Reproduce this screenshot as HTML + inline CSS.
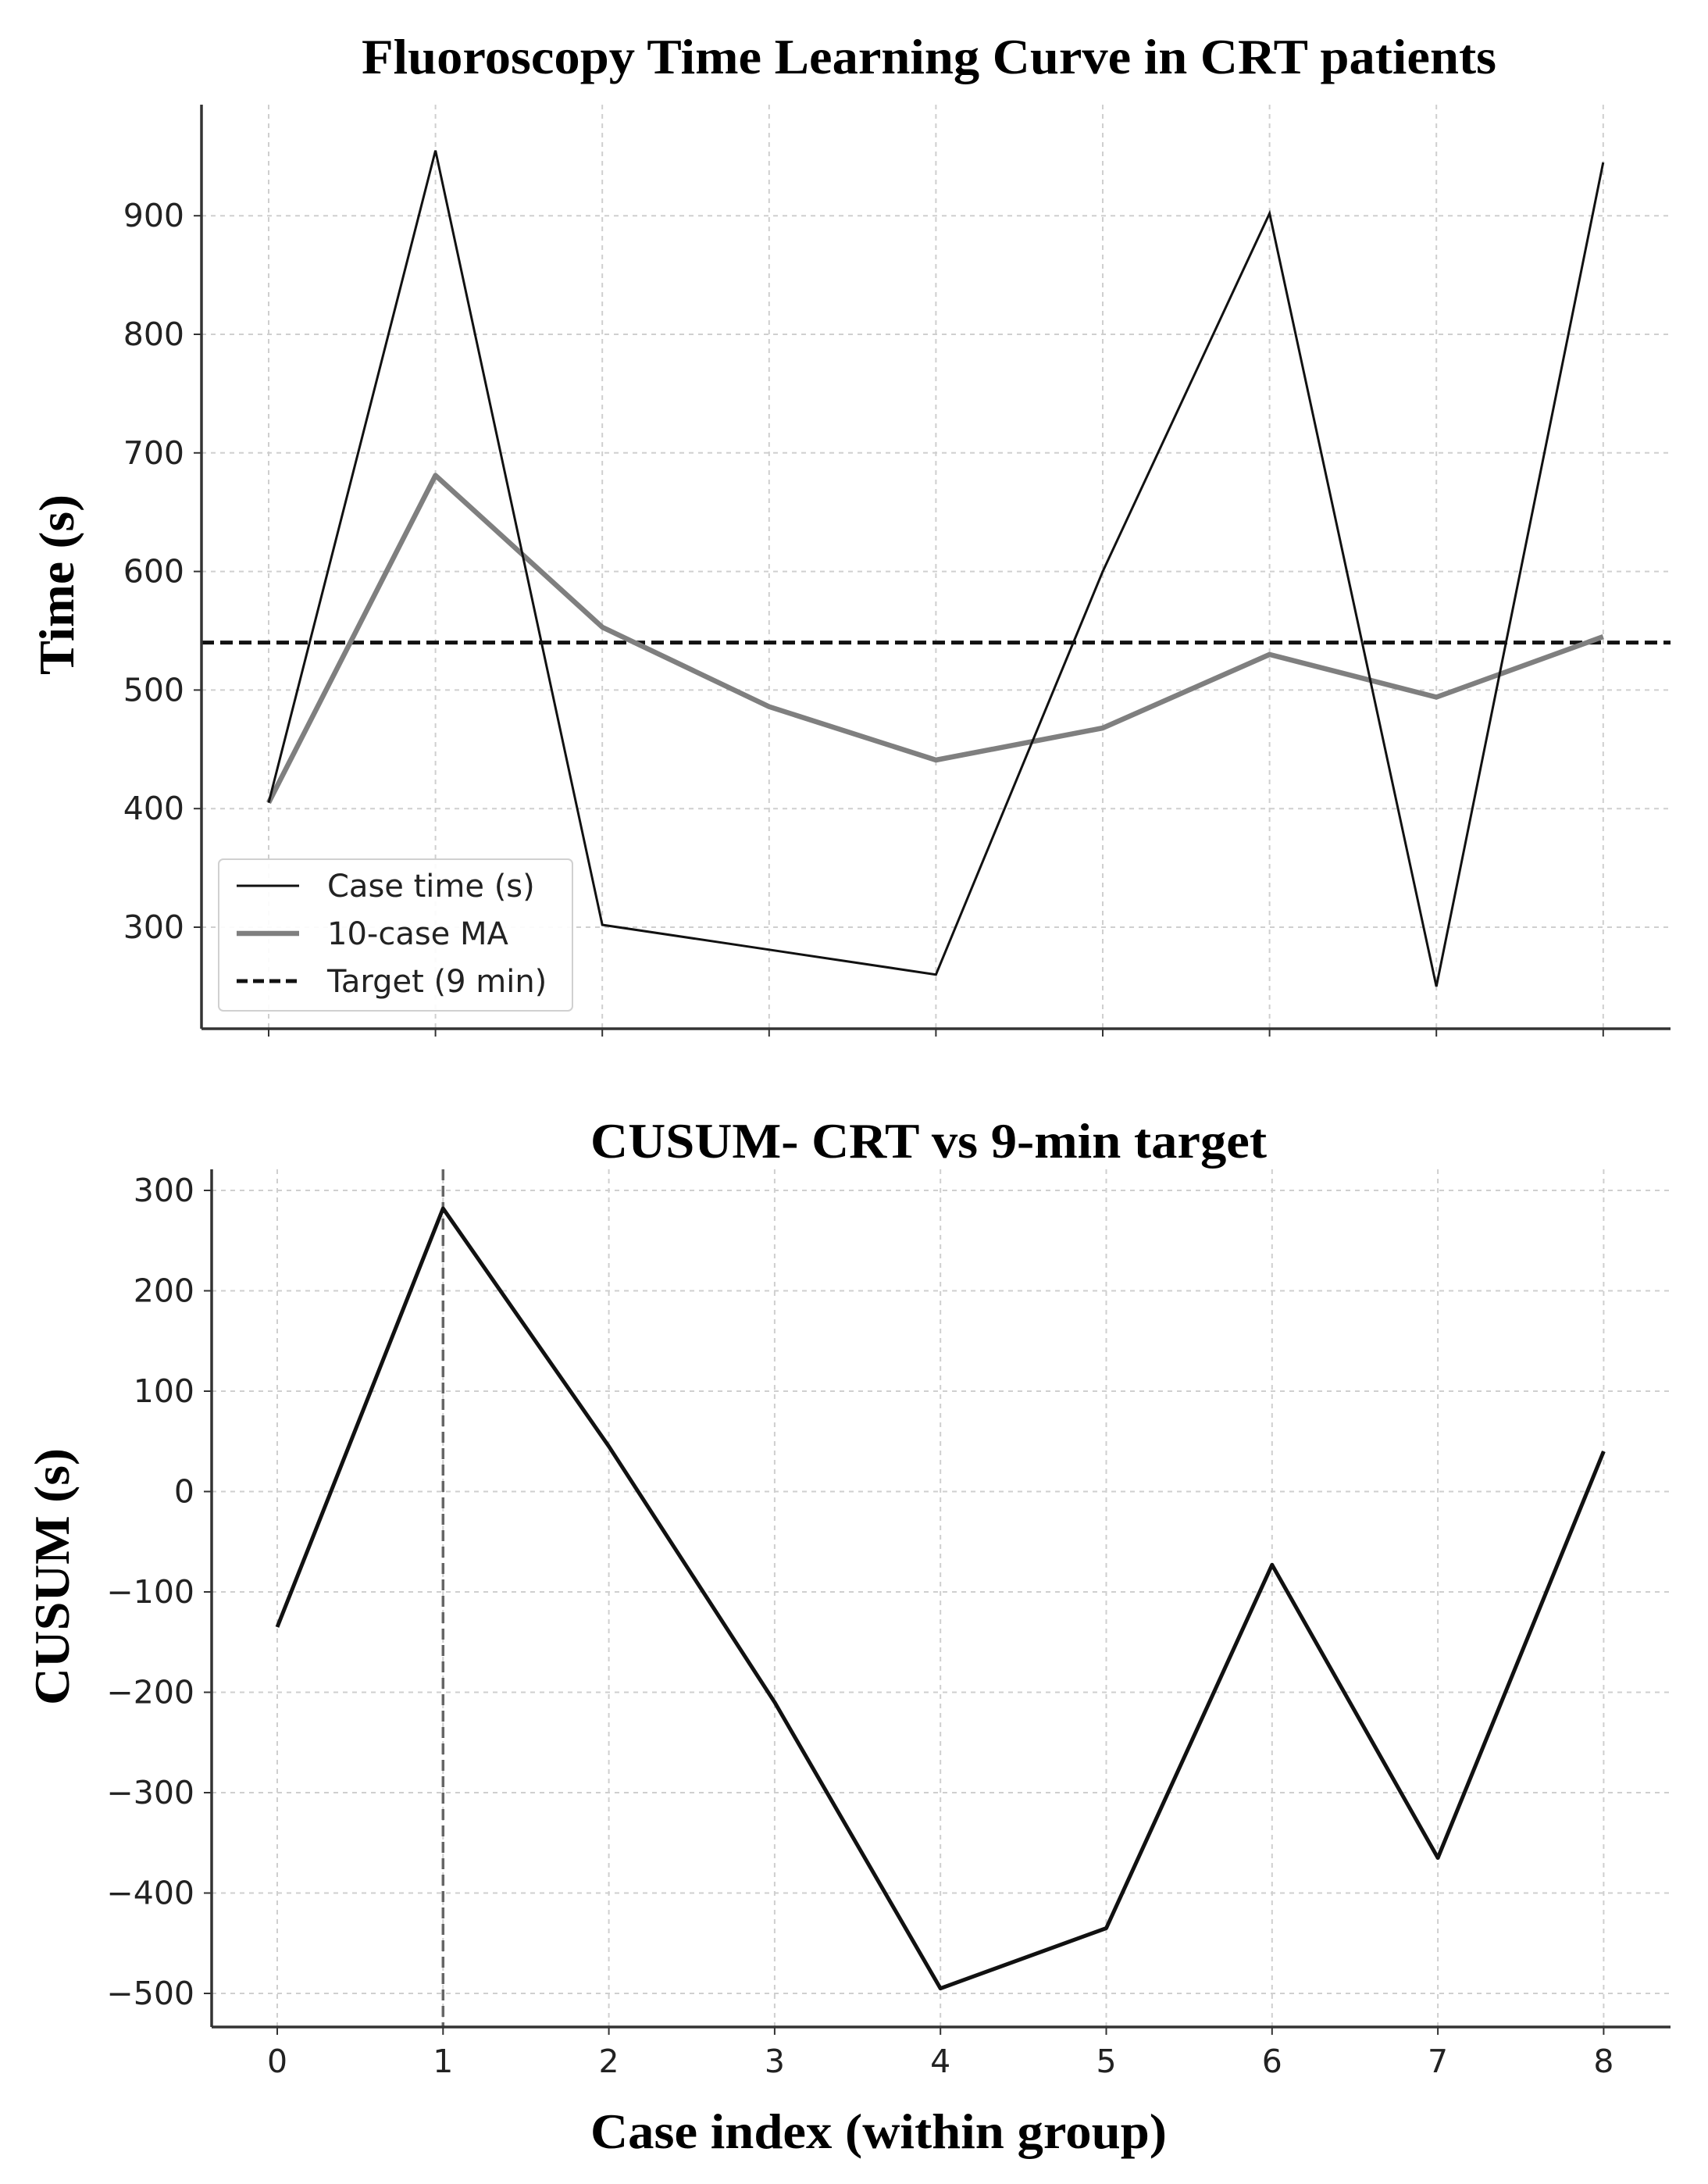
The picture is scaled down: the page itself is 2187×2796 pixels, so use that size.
<!DOCTYPE html>
<html><head><meta charset="utf-8"><style>
html,body{margin:0;padding:0;background:#fff;}
svg{display:block;}
text{font-family:"DejaVu Sans","Liberation Sans",sans-serif;}
.t{font-family:"Liberation Serif",serif;font-weight:bold;}
</style></head><body>
<svg id="c" width="2187" height="2796" viewBox="0 0 2187 2796"></svg>
<script>
const cases=[0,1,2,3,4,5,6,7,8];
const caseTime=[405,955,302,281,260,600,902,250,945];
const movingAvg=[405,681,553,486,441,468,530,494,545];
const targetVal=540;
const topTicks=[300,400,500,600,700,800,900];
const cusum=[-135,282,45,-210,-495,-435,-73,-365,40];
const botTicks=[-500,-400,-300,-200,-100,0,100,200,300];
const xTicks=[0,1,2,3,4,5,6,7,8];
const changePoint=1;

const NS='http://www.w3.org/2000/svg';
const svg=document.getElementById('c');
function el(tag,attrs,parent){const e=document.createElementNS(NS,tag);for(const k in attrs)e.setAttribute(k,attrs[k]);(parent||svg).appendChild(e);return e;}

const tx=v=>344+(v-0)*213.6;
const ty=v=>1187-(v-300)*1.518;
const TL=258,TR=2139,TT=134,TB=1317;
const bx=v=>355+(v-0)*212.3;
const by=v=>1524-(v-300)*1.285;
const BL=271,BR=2139,BT=1497,BB=2595;

function grid(g,xs,ys,L,R,T,B){
  xs.forEach(x=>{const l=el('line',{x1:x,x2:x,y1:T,y2:B,stroke:'#cfcfcf','stroke-width':2,'stroke-dasharray':'6,6'},g);
  });
  ys.forEach(y=>{const l=el('line',{x1:L,x2:R,y1:y,y2:y,stroke:'#cfcfcf','stroke-width':2,'stroke-dasharray':'6,6'},g);
  });
}
function path(pts){return pts.map((p,i)=>(i?'L':'M')+p[0].toFixed(1)+','+p[1].toFixed(1)).join(' ');}

// ---- TOP CHART
const g1=el('g',{});


grid(g1,xTicks.map(tx),topTicks.map(ty),TL,TR,TT,TB);
topTicks.forEach(v=>{
  const t=el('text',{x:TL-22,y:ty(v)+14,'text-anchor':'end','font-size':41,fill:'#222'},g1);t.textContent=v;
  
  el('line',{x1:TL-10,x2:TL,y1:ty(v),y2:ty(v),stroke:'#333','stroke-width':2},g1);
});
xTicks.forEach(v=>{el('line',{x1:tx(v),x2:tx(v),y1:TB,y2:TB+10,stroke:'#333','stroke-width':2},g1);});
const tgt=el('line',{x1:TL,x2:TR,y1:ty(targetVal),y2:ty(targetVal),stroke:'#111','stroke-width':5,'stroke-dasharray':'16,8'},g1);

const ma=el('path',{d:path(cases.map((c,i)=>[tx(c),ty(movingAvg[i])])),fill:'none',stroke:'#7f7f7f','stroke-width':6.5,'stroke-linejoin':'round'},g1);

const ct=el('path',{d:path(cases.map((c,i)=>[tx(c),ty(caseTime[i])])),fill:'none',stroke:'#111','stroke-width':3},g1);

el('line',{x1:TL,x2:TL,y1:TT,y2:TB,stroke:'#333','stroke-width':3.5},g1);
el('line',{x1:TL,x2:TR,y1:TB,y2:TB,stroke:'#333','stroke-width':3.5},g1);
const t1=el('text',{x:463,y:94,'font-size':64,class:'t',fill:'#000',textLength:1453,lengthAdjust:'spacingAndGlyphs'},g1);t1.textContent='Fluoroscopy Time Learning Curve in CRT patients';

const yl1=el('text',{x:0,y:0,transform:'translate(94,864) rotate(-90)','font-size':64,class:'t',fill:'#000',textLength:231,lengthAdjust:'spacingAndGlyphs'},g1);yl1.textContent='Time (s)';

const lg=el('g',{},g1);

el('rect',{x:280,y:1100,width:453,height:194,rx:6,fill:'#fff','fill-opacity':0.9,stroke:'#d0d0d0','stroke-width':2},lg);
const legItems=[['Case time (s)','#111',3,''],['10-case MA','#7f7f7f',6.5,''],['Target (9 min)','#111',5,'14,7']];
legItems.forEach((it,i)=>{
  const y=1134+i*61;
  const ln=el('line',{x1:303,x2:383,y1:y,y2:y,stroke:it[1],'stroke-width':it[2],'stroke-dasharray':it[3]||'none'},lg);
  
  const tt=el('text',{x:419,y:y+14,'font-size':40,fill:'#222'},lg);tt.textContent=it[0];
  
});

// ---- BOTTOM CHART
const g2=el('g',{});


grid(g2,xTicks.map(bx),botTicks.map(by),BL,BR,BT,BB);
botTicks.forEach(v=>{
  const t=el('text',{x:BL-22,y:by(v)+14,'text-anchor':'end','font-size':41,fill:'#222'},g2);t.textContent=(v<0?'\u2212'+(-v):v);
  
  el('line',{x1:BL-10,x2:BL,y1:by(v),y2:by(v),stroke:'#333','stroke-width':2},g2);
});
xTicks.forEach(v=>{
  el('line',{x1:bx(v),x2:bx(v),y1:BB,y2:BB+10,stroke:'#333','stroke-width':2},g2);
  const t=el('text',{x:bx(v),y:BB+58,'text-anchor':'middle','font-size':41,fill:'#222'},g2);t.textContent=v;
  
});
const cp=el('line',{x1:bx(changePoint),x2:bx(changePoint),y1:BT,y2:BB,stroke:'#666','stroke-width':3.5,'stroke-dasharray':'14,7'},g2);

const cu=el('path',{d:path(cases.map((c,i)=>[bx(c),by(cusum[i])])),fill:'none',stroke:'#111','stroke-width':5,'stroke-linejoin':'round'},g2);

el('line',{x1:BL,x2:BL,y1:BT,y2:BB,stroke:'#333','stroke-width':3.5},g2);
el('line',{x1:BL,x2:BR,y1:BB,y2:BB,stroke:'#333','stroke-width':3.5},g2);
const t2=el('text',{x:756,y:1482,'font-size':64,class:'t',fill:'#000',textLength:866,lengthAdjust:'spacingAndGlyphs'},g2);t2.textContent='CUSUM- CRT vs 9-min target';

const yl2=el('text',{x:0,y:0,transform:'translate(88,2183) rotate(-90)','font-size':64,class:'t',fill:'#000',textLength:329,lengthAdjust:'spacingAndGlyphs'},g2);yl2.textContent='CUSUM (s)';

const xl=el('text',{x:756,y:2750,'font-size':64,class:'t',fill:'#000',textLength:738,lengthAdjust:'spacingAndGlyphs'},g2);xl.textContent='Case index (within group)';

</script>
</body></html>
